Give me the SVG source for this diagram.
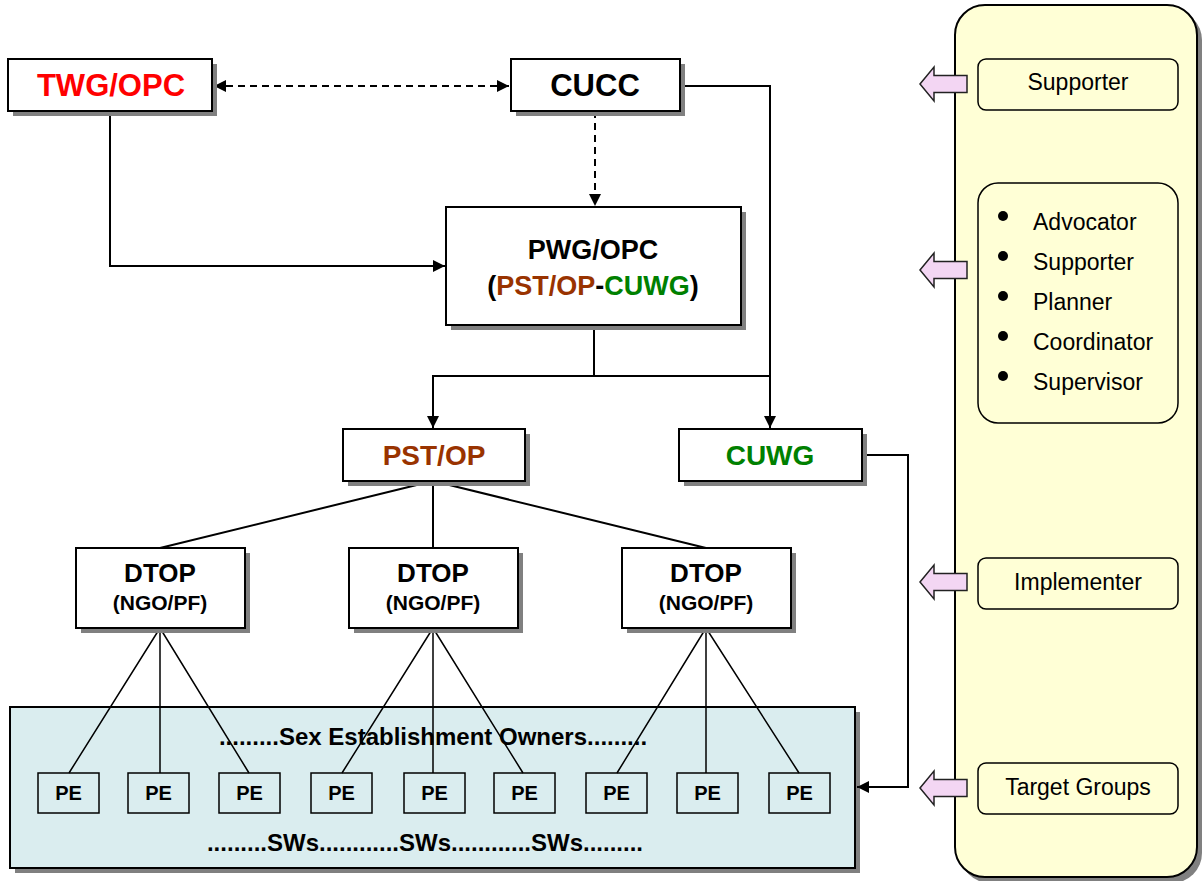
<svg xmlns="http://www.w3.org/2000/svg" width="1202" height="881" viewBox="0 0 1202 881">
<defs>
<marker id="ah" viewBox="0 0 12 12" refX="12" refY="6" markerWidth="12" markerHeight="12" markerUnits="userSpaceOnUse" orient="auto-start-reverse">
<path d="M0,0 L12,6 L0,12 Z" fill="#000"/>
</marker>
</defs>
<style>
.box{fill:#fff;stroke:#000;stroke-width:2}
.sh{fill:#808080}
.b{font-family:"Liberation Sans",Arial,sans-serif;font-weight:bold;text-anchor:middle}
.r{font-family:"Liberation Sans",Arial,sans-serif;font-size:23px}
.c{stroke:#000;stroke-width:2;fill:none}
.t{stroke:#000;stroke-width:1.5;fill:none}
.pe{fill:none;stroke:#000;stroke-width:1.5}
.ib{fill:#FFFFD6;stroke:#000;stroke-width:1.5}
.pa{fill:#F3D6F3;stroke:#222;stroke-width:1.5}
</style>
<rect width="1202" height="881" fill="#fff"/>

<!-- right panel -->
<g id="panel">
<rect x="960" y="10" width="242" height="873" rx="30" class="sh"/>
<rect x="955" y="5" width="242" height="872" rx="30" fill="#FFFFD6" stroke="#000" stroke-width="2"/>
</g>
<g id="role-supporter">
<rect x="978" y="59" width="200" height="51" rx="8" class="ib"/>
<text x="1078" y="90" class="r" text-anchor="middle">Supporter</text>
</g>
<g id="role-list">
<rect x="978" y="183" width="200" height="240" rx="20" class="ib"/>
<circle cx="1003" cy="216" r="5"/>
<circle cx="1003" cy="256" r="5"/>
<circle cx="1003" cy="296" r="5"/>
<circle cx="1003" cy="336" r="5"/>
<circle cx="1003" cy="376" r="5"/>
<text x="1033" y="230" class="r">Advocator</text>
<text x="1033" y="270" class="r">Supporter</text>
<text x="1033" y="310" class="r">Planner</text>
<text x="1033" y="350" class="r">Coordinator</text>
<text x="1033" y="390" class="r">Supervisor</text>
</g>
<g id="role-implementer">
<rect x="978" y="558" width="200" height="51" rx="8" class="ib"/>
<text x="1078" y="590" class="r" text-anchor="middle">Implementer</text>
</g>
<g id="role-target">
<rect x="978" y="763" width="200" height="51" rx="8" class="ib"/>
<text x="1078" y="795" class="r" text-anchor="middle">Target Groups</text>
</g>
<g id="pink-arrows">
<polygon class="pa" points="920,84 934,67 934,75.5 967,75.5 967,92.5 934,92.5 934,101"/>
<polygon class="pa" points="920,270 934,253 934,261.5 967,261.5 967,278.5 934,278.5 934,287"/>
<polygon class="pa" points="920,582 934,565 934,573.5 967,573.5 967,590.5 934,590.5 934,599"/>
<polygon class="pa" points="920,788 934,771 934,779.5 967,779.5 967,796.5 934,796.5 934,805"/>
</g>

<!-- teal group box -->
<g id="sex-establishment">
<rect x="15" y="712" width="845" height="161" class="sh"/>
<rect x="10" y="707" width="845" height="161" fill="#DAEDEF" stroke="#000" stroke-width="2"/>
<text x="433" y="745" class="b" font-size="24">.........Sex Establishment Owners.........</text>
<text x="425" y="851" class="b" font-size="24">.........SWs............SWs............SWs.........</text>
</g>

<!-- connectors -->
<g id="connectors">
<line x1="214" y1="86" x2="509" y2="86" class="c" stroke-dasharray="7,5" marker-start="url(#ah)" marker-end="url(#ah)"/>
<path d="M110,111 V266 H445" class="c" marker-end="url(#ah)"/>
<path d="M595,111 V206" class="c" stroke-dasharray="7,5" marker-end="url(#ah)"/>
<path d="M680,86 H770 V428" class="c" marker-end="url(#ah)"/>
<path d="M594,325 V376 H433 V428" class="c" marker-end="url(#ah)"/>
<path d="M594,376 H770" class="c"/>
<path d="M862,455 H908 V787 H857" class="c" marker-end="url(#ah)"/>
<path d="M433,481 L160,548 M433,481 V548 M433,481 L706,548" class="c"/>
<path d="M160,628 L69,773 M160,628 V773 M160,628 L249,773" class="t"/>
<path d="M433,628 L342,773 M433,628 V773 M433,628 L523,773" class="t"/>
<path d="M706,628 L617,773 M706,628 V773 M706,628 L799,773" class="t"/>
</g>

<!-- nodes -->
<g id="twg">
<rect x="13" y="64" width="204" height="52" class="sh"/>
<rect x="8" y="59" width="204" height="52" class="box"/>
<text x="111" y="96" class="b" font-size="31" fill="#FF0000">TWG/OPC</text>
</g>
<g id="cucc">
<rect x="516" y="64" width="169" height="52" class="sh"/>
<rect x="511" y="59" width="169" height="52" class="box"/>
<text x="595" y="96" class="b" font-size="31">CUCC</text>
</g>
<g id="pwg">
<rect x="451" y="212" width="295" height="118" class="sh"/>
<rect x="446" y="207" width="295" height="118" class="box"/>
<text x="593" y="259" class="b" font-size="27">PWG/OPC</text>
<text x="593" y="295" class="b" font-size="27">(<tspan fill="#993300">PST/OP</tspan>-<tspan fill="#008000">CUWG</tspan>)</text>
</g>
<g id="pstop">
<rect x="348" y="434" width="182" height="52" class="sh"/>
<rect x="343" y="429" width="182" height="52" class="box"/>
<text x="434" y="465" class="b" font-size="28" fill="#993300">PST/OP</text>
</g>
<g id="cuwg">
<rect x="684" y="434" width="183" height="52" class="sh"/>
<rect x="679" y="429" width="183" height="52" class="box"/>
<text x="770" y="465" class="b" font-size="28" fill="#008000">CUWG</text>
</g>
<g id="dtop1">
<rect x="81" y="553" width="169" height="80" class="sh"/>
<rect x="76" y="548" width="169" height="80" class="box"/>
<text x="160" y="582" class="b" font-size="26">DTOP</text>
<text x="160" y="610" class="b" font-size="21">(NGO/PF)</text>
</g>
<g id="dtop2">
<rect x="354" y="553" width="169" height="80" class="sh"/>
<rect x="349" y="548" width="169" height="80" class="box"/>
<text x="433" y="582" class="b" font-size="26">DTOP</text>
<text x="433" y="610" class="b" font-size="21">(NGO/PF)</text>
</g>
<g id="dtop3">
<rect x="627" y="553" width="169" height="80" class="sh"/>
<rect x="622" y="548" width="169" height="80" class="box"/>
<text x="706" y="582" class="b" font-size="26">DTOP</text>
<text x="706" y="610" class="b" font-size="21">(NGO/PF)</text>
</g>
<g id="pe-boxes">
<g id="pe1"><rect x="38" y="773" width="61" height="40" class="pe"/><text x="68.5" y="800" class="b" font-size="20">PE</text></g>
<g id="pe2"><rect x="128" y="773" width="61" height="40" class="pe"/><text x="158.5" y="800" class="b" font-size="20">PE</text></g>
<g id="pe3"><rect x="219" y="773" width="61" height="40" class="pe"/><text x="249.5" y="800" class="b" font-size="20">PE</text></g>
<g id="pe4"><rect x="311" y="773" width="61" height="40" class="pe"/><text x="341.5" y="800" class="b" font-size="20">PE</text></g>
<g id="pe5"><rect x="404" y="773" width="61" height="40" class="pe"/><text x="434.5" y="800" class="b" font-size="20">PE</text></g>
<g id="pe6"><rect x="494" y="773" width="61" height="40" class="pe"/><text x="524.5" y="800" class="b" font-size="20">PE</text></g>
<g id="pe7"><rect x="586" y="773" width="61" height="40" class="pe"/><text x="616.5" y="800" class="b" font-size="20">PE</text></g>
<g id="pe8"><rect x="677" y="773" width="61" height="40" class="pe"/><text x="707.5" y="800" class="b" font-size="20">PE</text></g>
<g id="pe9"><rect x="769" y="773" width="61" height="40" class="pe"/><text x="799.5" y="800" class="b" font-size="20">PE</text></g>
</g>
</svg>
